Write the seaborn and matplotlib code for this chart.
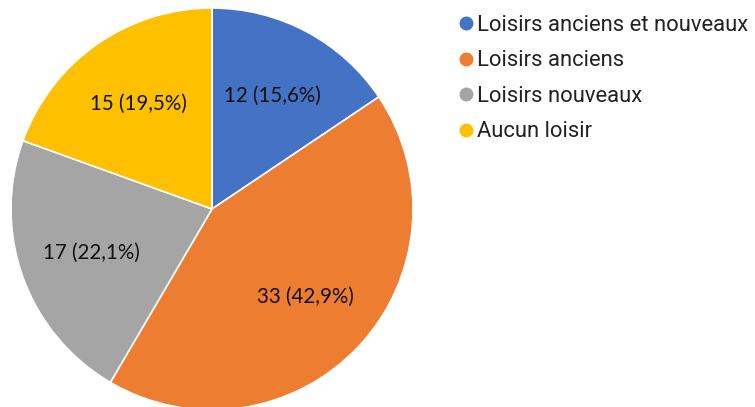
import matplotlib
matplotlib.use("Agg")
import matplotlib.pyplot as plt
from matplotlib.lines import Line2D
import numpy as np
import seaborn as sns

categories = ["Loisirs anciens et nouveaux", "Loisirs anciens", "Loisirs nouveaux", "Aucun loisir"]
counts = [12, 33, 17, 15]
percents = [15.6, 42.9, 22.1, 19.5]
colors = ["#4472C4", "#ED7D31", "#A5A5A5", "#FFC000"]

sns.set_theme(style="white")
plt.rcParams["font.family"] = ["Roboto", "DejaVu Sans"]

W, H = 755, 407
fig = plt.figure(figsize=(W / 100, H / 100), dpi=100)
fig.patch.set_facecolor("white")

# pie area: centre (212, 209) px, radius 201 px
cx, cy, r = 212, 209, 201
ax = fig.add_axes([(cx - r) / W, (H - cy - r) / H, 2 * r / W, 2 * r / H])
ax.axis("off")

labels_txt = [f"{c} ({str(p).replace('.', ',')}%)" for c, p in zip(counts, percents)]
wedges, _ = ax.pie(counts, colors=colors, startangle=90, counterclock=False,
                   radius=1.0, center=(0, 0),
                   wedgeprops=dict(edgecolor="white", linewidth=1.2))
ax.set_xlim(-1, 1)
ax.set_ylim(-1, 1)
ax.set_aspect("equal")

for w, txt in zip(wedges, labels_txt):
    mid = np.deg2rad((w.theta1 + w.theta2) / 2)
    d = 0.64
    ax.text(d * np.cos(mid), d * np.sin(mid), txt, ha="center", va="center",
            fontsize=14.8, color="#111111", family=["Lato", "DejaVu Sans"])

handles = [Line2D([0], [0], marker="o", linestyle="none", markersize=9,
                  markerfacecolor=c, markeredgecolor=c) for c in colors]
fig.legend(handles, categories, loc="upper left",
           bbox_to_anchor=(450 / W, 1 - 6 / H), frameon=False,
           fontsize=15.8, handlelength=0.7, handletextpad=0.12,
           labelspacing=0.66, borderaxespad=0, labelcolor="#222222")

fig.savefig("out.png", dpi=100, facecolor="white")
